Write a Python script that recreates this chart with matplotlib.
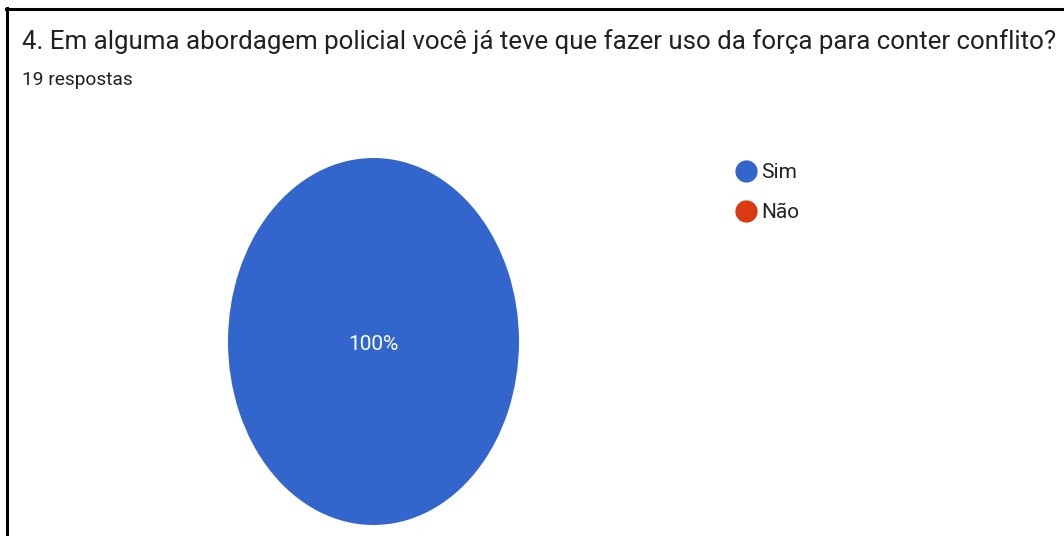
import matplotlib.pyplot as plt
from matplotlib.lines import Line2D

# Survey data
title = "4. Em alguma abordagem policial você já teve que fazer uso da força para conter conflito?"
subtitle = "19 respostas"
labels = ["Sim", "Não"]
counts = [19, 0]
colors = ["#3366cc", "#dc3912"]

W, H = 1064, 536
fig = plt.figure(figsize=(W / 100, H / 100), dpi=100)
plt.rcParams['font.family'] = ['Roboto', 'DejaVu Sans']

# Frame lines of the screenshot (left and top edges)
fig.add_artist(Line2D([6.5 / W, 6.5 / W], [0, 1 - 8 / H], color="black", lw=2.2))
fig.add_artist(Line2D([5.5 / W, 1], [1 - 9 / H, 1 - 9 / H], color="black", lw=2.2))

# Header texts
fig.text(22 / W, 1 - 42 / H, title, fontsize=18.6, color="#212121", va="center", ha="left")
fig.text(22 / W, 1 - 80 / H, subtitle, fontsize=13.8, color="#212121", va="center", ha="left")

# Pie drawn in an axes stretched to the elliptical shape
ax = fig.add_axes([228 / W, 11 / H, 291 / W, 367 / H])


def pct_label(p):
    return f"{p:.0f}%" if p > 0 else ""


wedges, texts, autotexts = ax.pie(counts, colors=colors, startangle=90, counterclock=False,
                                  autopct=pct_label, pctdistance=0.0, radius=1.0,
                                  wedgeprops=dict(linewidth=0))
for t in autotexts:
    t.set_color("white")
    t.set_fontsize(15)
    t.set_y(-0.015)
ax.set_aspect("auto")
ax.set_xlim(-1, 1)
ax.set_ylim(-1, 1)
ax.axis("off")

# Legend with round markers
handles = [Line2D([], [], marker="o", linestyle="", markersize=15, markerfacecolor=c,
                  markeredgecolor=c) for c in colors]
fig.legend(handles, labels, loc="upper left", bbox_to_anchor=(726 / W, 1 - 155 / H),
           frameon=False, fontsize=15, handletextpad=0.2, labelspacing=1.0,
           borderaxespad=0, handlelength=1.1, labelcolor="#222222")

fig.savefig("out.png", dpi=100)
